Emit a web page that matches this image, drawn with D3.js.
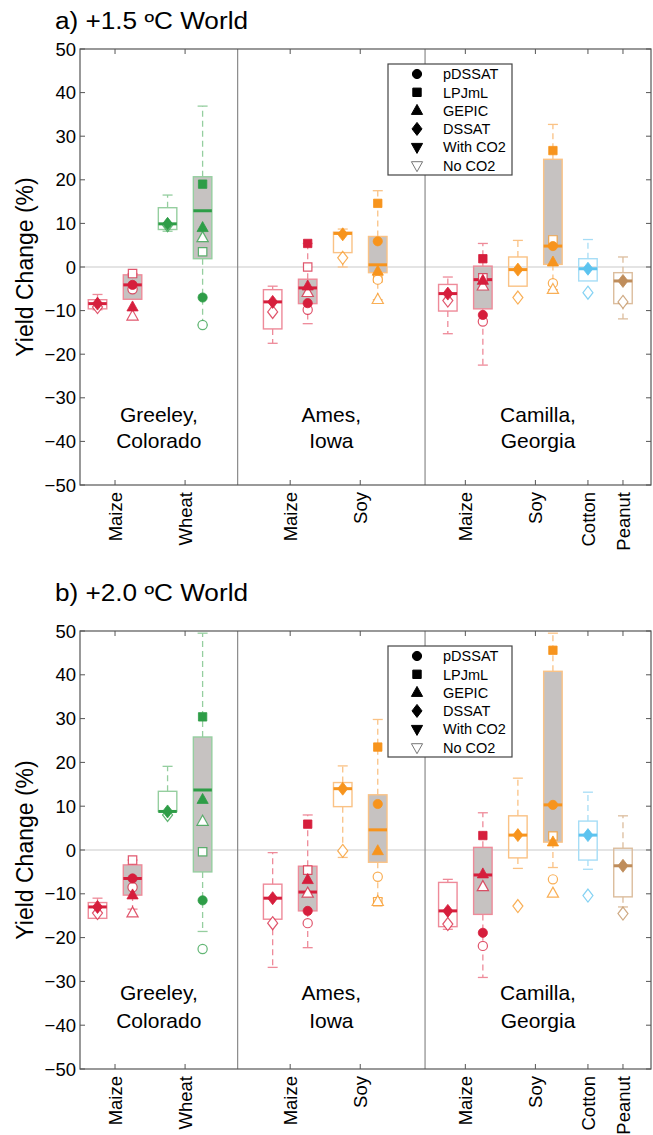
<!DOCTYPE html>
<html><head><meta charset="utf-8">
<script src="https://cdn.jsdelivr.net/npm/d3@7"></script>
<style>
body{margin:0;background:#fff}
svg{display:block}
text{font-family:"Liberation Sans",Arial,Helvetica,sans-serif;fill:#000}
</style>
</head><body>
<svg id="chart" width="653" height="1135"></svg>
<script>
// ---------- data ----------
const boxPos  = [1, 2, 3, 4, 6, 7, 8, 9, 11, 12, 13, 14, 15, 16];
const boxCrop = ["maize","maize","wheat","wheat","maize","maize","soy","soy","maize","maize","soy","soy","cotton","peanut"];
const boxGray = [0, 1, 0, 1, 0, 1, 0, 1, 0, 1, 0, 1, 0, 0];

// [whisker low, q1, median, q3, whisker high]
const statsA = [
  [-9.8, -9.6, -8.4, -7.5, -6.3],
  [-7.4, -7.4, -4.1, -1.8, -1.5],
  [8.2, 8.6, 9.9, 13.6, 16.5],
  [-13.3, 1.9, 12.9, 20.7, 36.9],
  [-17.5, -14.2, -8.0, -5.2, -4.4],
  [-13.0, -8.4, -4.8, -2.8, 5.4],
  [0.0, 3.3, 7.7, 8.0, 8.7],
  [-7.5, -1.3, 0.5, 7.0, 17.5],
  [-15.3, -10.1, -6.1, -4.0, -2.3],
  [-22.5, -9.6, -2.9, 0.2, 5.4],
  [-4.4, -4.4, -0.6, 2.3, 6.1],
  [-5.2, 0.6, 4.8, 24.7, 32.7],
  [-3.2, -3.2, -0.4, 1.9, 6.3],
  [-11.9, -8.4, -3.2, -1.3, 2.3]
];
const statsB = [
  [-15.6, -15.6, -13.0, -12.0, -11.0],
  [-13.5, -10.3, -6.5, -3.4, -2.3],
  [8.0, 8.8, 8.8, 13.4, 19.1],
  [-18.6, -5.0, 13.7, 25.8, 49.5],
  [-26.8, -15.8, -11.0, -7.8, -0.6],
  [-22.3, -13.9, -9.6, -3.7, 8.0],
  [-1.7, 9.9, 14.0, 15.4, 19.2],
  [-11.0, -2.8, 4.6, 12.6, 29.8],
  [-18.1, -17.5, -13.9, -7.4, -6.7],
  [-29.1, -14.7, -5.7, 0.6, 8.5],
  [-4.2, -1.8, 3.4, 7.8, 16.4],
  [-4.0, 1.8, 10.3, 40.8, 49.5],
  [-4.4, -2.3, 3.4, 6.6, 13.2],
  [-13.0, -10.7, -3.6, 0.4, 7.8]
];

// [box position, model, with CO2 (1) / no CO2 (0), value]
const pointsA = [
  [1,"DSSAT",1,-8.4],[1,"DSSAT",0,-9.2],
  [2,"LPJmL",0,-1.5],[2,"pDSSAT",1,-4.1],[2,"pDSSAT",0,-5.1],[2,"GEPIC",1,-9.2],[2,"GEPIC",0,-11.3],
  [3,"DSSAT",1,9.9],[3,"DSSAT",0,9.6],
  [4,"LPJmL",1,19.0],[4,"GEPIC",1,9.0],[4,"GEPIC",0,6.7],[4,"LPJmL",0,3.5],[4,"pDSSAT",1,-7.0],[4,"pDSSAT",0,-13.3],
  [6,"DSSAT",1,-8.0],[6,"DSSAT",0,-10.3],
  [7,"LPJmL",1,5.4],[7,"LPJmL",0,0.0],[7,"GEPIC",1,-4.4],[7,"GEPIC",0,-5.9],[7,"pDSSAT",1,-8.3],[7,"pDSSAT",0,-9.8],
  [8,"DSSAT",1,7.5],[8,"DSSAT",0,2.1],
  [9,"LPJmL",1,14.6],[9,"pDSSAT",1,5.9],[9,"GEPIC",1,-1.0],[9,"LPJmL",0,-2.5],[9,"pDSSAT",0,-2.9],[9,"GEPIC",0,-7.5],
  [11,"DSSAT",1,-6.1],[11,"DSSAT",0,-7.7],
  [12,"LPJmL",1,1.9],[12,"LPJmL",0,-2.5],[12,"GEPIC",1,-3.1],[12,"GEPIC",0,-4.4],[12,"pDSSAT",1,-11.0],[12,"pDSSAT",0,-12.5],
  [13,"DSSAT",1,-0.6],[13,"DSSAT",0,-7.0],
  [14,"LPJmL",1,26.7],[14,"LPJmL",0,6.2],[14,"pDSSAT",1,4.8],[14,"GEPIC",1,1.1],[14,"pDSSAT",0,-3.7],[14,"GEPIC",0,-5.2],
  [15,"DSSAT",1,-0.4],[15,"DSSAT",0,-5.9],
  [16,"DSSAT",1,-3.2],[16,"DSSAT",0,-8.0]
];
const pointsB = [
  [1,"DSSAT",1,-13.0],[1,"DSSAT",0,-14.4],
  [2,"LPJmL",0,-2.3],[2,"pDSSAT",1,-6.5],[2,"pDSSAT",0,-8.5],[2,"GEPIC",1,-10.3],[2,"GEPIC",0,-14.4],
  [3,"DSSAT",1,8.8],[3,"DSSAT",0,8.0],
  [4,"LPJmL",1,30.4],[4,"GEPIC",1,11.5],[4,"GEPIC",0,6.5],[4,"LPJmL",0,-0.4],[4,"pDSSAT",1,-11.5],[4,"pDSSAT",0,-22.6],
  [6,"DSSAT",1,-11.0],[6,"DSSAT",0,-16.7],
  [7,"LPJmL",1,5.9],[7,"LPJmL",0,-4.6],[7,"GEPIC",1,-6.8],[7,"GEPIC",0,-9.9],[7,"pDSSAT",1,-13.9],[7,"pDSSAT",0,-16.7],
  [8,"DSSAT",1,14.0],[8,"DSSAT",0,-0.2],
  [9,"LPJmL",1,23.5],[9,"pDSSAT",1,10.5],[9,"GEPIC",1,-0.2],[9,"pDSSAT",0,-6.1],[9,"LPJmL",0,-11.8],[9,"GEPIC",0,-11.8],
  [11,"DSSAT",1,-13.9],[11,"DSSAT",0,-16.9],
  [12,"LPJmL",1,3.3],[12,"GEPIC",1,-5.5],[12,"GEPIC",0,-8.4],[12,"pDSSAT",1,-18.9],[12,"pDSSAT",0,-21.9],
  [13,"DSSAT",1,3.4],[13,"DSSAT",0,-12.8],
  [14,"LPJmL",1,45.6],[14,"pDSSAT",1,10.3],[14,"LPJmL",0,3.2],[14,"GEPIC",1,1.8],[14,"pDSSAT",0,-6.7],[14,"GEPIC",0,-9.9],
  [15,"DSSAT",1,3.4],[15,"DSSAT",0,-10.4],
  [16,"DSSAT",1,-3.6],[16,"DSSAT",0,-14.5]
];

const cropTickPos   = [1.5, 3.5, 6.5, 8.5, 11.5, 13.5, 15, 16];
const cropTickNames = ["Maize","Wheat","Maize","Soy","Maize","Soy","Cotton","Peanut"];
const siteNames  = [["Greeley,","Colorado"],["Ames,","Iowa"],["Camilla,","Georgia"]];
const siteBounds = [[0.5, 5], [5, 10.35], [10.35, 16.8]];
const separators = [5, 10.35];
const yTicks = [50, 40, 30, 20, 10, 0, -10, -20, -30, -40, -50];
const legendLabels = ["pDSSAT","LPJmL","GEPIC","DSSAT","With CO2","No CO2"];
const legendShapes = ["pDSSAT","LPJmL","GEPIC","DSSAT","down","downOpen"];
const panelTitles = ["a) +1.5 \u00BAC World", "b) +2.0 \u00BAC World"];
const yLabel = "Yield Change (%)";

// ---------- styles ----------
const cropColor = {maize:"#D61E3C", wheat:"#2E9D47", soy:"#F7941D", cotton:"#5CC3EF", peanut:"#BF8D5B"};
const cropLight = {maize:"#EE8A99", wheat:"#95CE9F", soy:"#FAC285", cotton:"#A6DDF6", peanut:"#DCBD9D"};
const grayFill = "#C6C2C1";
const axisColor = "#555";

const svg = d3.select("#chart");

const panels = [
  {top: 49, bottom: 485, titleY: 29, stats: statsA, points: pointsA, title: panelTitles[0], siteY: [-33.8, -39.8]},
  {top: 631, bottom: 1069, titleY: 601, stats: statsB, points: pointsB, title: panelTitles[1], siteY: [-32.6, -38.9]}
];

const left = 80, right = 651;
const x = d3.scaleLinear().domain([0.5, 16.8]).range([left, right]);

function markerPath(shape) {
  switch (shape) {
    case "pDSSAT": { const p = d3.path(); p.arc(0, 0, 4.6, 0, 2 * Math.PI); p.closePath(); return p.toString(); }
    case "LPJmL": return "M-4.2,-4.2H4.2V4.2H-4.2Z";
    case "GEPIC": return "M0,-6.2L5.6,3.8L-5.6,3.8Z";
    case "DSSAT": return "M0,-6.5L5,0L0,6.5L-5,0Z";
    case "down":
    case "downOpen": return "M0,6.2L5.6,-3.8L-5.6,-3.8Z";
  }
}

panels.forEach((P, pi) => {
  const g = svg.append("g");
  const y = d3.scaleLinear().domain([-50, 50]).range([P.bottom, P.top]);

  // title
  g.append("text").attr("x", 55).attr("y", P.titleY)
    .attr("font-size", 23).attr("textLength", 193).attr("lengthAdjust", "spacingAndGlyphs")
    .text(P.title);

  // zero line
  g.append("line").attr("x1", left).attr("x2", right).attr("y1", y(0)).attr("y2", y(0))
    .attr("stroke", "#c9c9c9").attr("stroke-width", 1);

  // separators
  g.selectAll(".sep").data(separators).enter().append("line")
    .attr("x1", d => x(d)).attr("x2", d => x(d)).attr("y1", P.top).attr("y2", P.bottom)
    .attr("stroke", "#8a8a8a").attr("stroke-width", 1.2);

  const bw = 18.5;
  const boxes = boxPos.map((p, i) => ({p, crop: boxCrop[i], gray: boxGray[i], s: P.stats[i]}));

  // whiskers
  boxes.forEach(b => {
    const cx = x(b.p);
    const [lo, q1, med, q3, hi] = b.s;
    const col = cropLight[b.crop];
    if (hi > q3) {
      g.append("line").attr("x1", cx).attr("x2", cx).attr("y1", y(q3)).attr("y2", y(hi))
        .attr("stroke", col).attr("stroke-width", 1.3).attr("stroke-dasharray", "6,4");
      g.append("line").attr("x1", cx - 5).attr("x2", cx + 5).attr("y1", y(hi)).attr("y2", y(hi))
        .attr("stroke", col).attr("stroke-width", 1.3);
    }
    if (lo < q1) {
      g.append("line").attr("x1", cx).attr("x2", cx).attr("y1", y(q1)).attr("y2", y(lo))
        .attr("stroke", col).attr("stroke-width", 1.3).attr("stroke-dasharray", "6,4");
      g.append("line").attr("x1", cx - 5).attr("x2", cx + 5).attr("y1", y(lo)).attr("y2", y(lo))
        .attr("stroke", col).attr("stroke-width", 1.3);
    }
  });

  // boxes
  boxes.forEach(b => {
    const cx = x(b.p);
    const [lo, q1, med, q3, hi] = b.s;
    g.append("rect").attr("x", cx - bw / 2).attr("width", bw)
      .attr("y", y(q3)).attr("height", Math.max(1, y(q1) - y(q3)))
      .attr("fill", b.gray ? grayFill : "#fff").attr("fill-opacity", b.gray ? 1 : 0)
      .attr("stroke", cropLight[b.crop]).attr("stroke-width", 1.4);
  });

  // medians
  boxes.forEach(b => {
    const cx = x(b.p);
    g.append("line").attr("x1", cx - bw / 2).attr("x2", cx + bw / 2)
      .attr("y1", y(b.s[2])).attr("y2", y(b.s[2]))
      .attr("stroke", cropColor[b.crop]).attr("stroke-width", 3);
  });

  // points
  const cropAt = {};
  boxPos.forEach((p, i) => cropAt[p] = boxCrop[i]);
  const pts = P.points.slice().sort((a, b) => a[2] - b[2]);
  g.selectAll(".pt").data(pts).enter().append("path")
    .attr("d", d => markerPath(d[1]))
    .attr("transform", d => `translate(${x(d[0])},${y(d[3])})`)
    .attr("fill", d => d[2] ? cropColor[cropAt[d[0]]] : "#fff")
    .attr("stroke", d => cropColor[cropAt[d[0]]])
    .attr("stroke-opacity", d => d[2] ? 1 : 0.75)
    .attr("stroke-width", d => d[2] ? 0.8 : 1.2);

  // axes frame
  g.append("rect").attr("x", left).attr("y", P.top).attr("width", right - left).attr("height", P.bottom - P.top)
    .attr("fill", "none").attr("stroke", axisColor).attr("stroke-width", 1.2);

  // y ticks (left & right, inward)
  g.selectAll(".ytl").data(yTicks).enter().append("line")
    .attr("x1", left).attr("x2", left + 5).attr("y1", d => y(d)).attr("y2", d => y(d))
    .attr("stroke", axisColor);
  g.selectAll(".ytr").data(yTicks).enter().append("line")
    .attr("x1", right - 5).attr("x2", right).attr("y1", d => y(d)).attr("y2", d => y(d))
    .attr("stroke", axisColor);
  g.selectAll(".ylab").data(yTicks).enter().append("text")
    .attr("x", left - 4).attr("y", d => y(d)).attr("dy", "0.36em")
    .attr("text-anchor", "end").attr("font-size", 18.5)
    .text(d => d < 0 ? "\u2212" + Math.abs(d) : String(d));

  // x ticks top & bottom
  g.selectAll(".xtt").data(cropTickPos).enter().append("line")
    .attr("x1", d => x(d)).attr("x2", d => x(d)).attr("y1", P.top).attr("y2", P.top + 5)
    .attr("stroke", axisColor);
  g.selectAll(".xtb").data(cropTickPos).enter().append("line")
    .attr("x1", d => x(d)).attr("x2", d => x(d)).attr("y1", P.bottom).attr("y2", P.bottom - 5)
    .attr("stroke", axisColor);
  g.selectAll(".xlab").data(cropTickPos).enter().append("text")
    .attr("transform", d => `translate(${x(d)},${P.bottom + 7}) rotate(-90)`)
    .attr("dy", "0.36em").attr("text-anchor", "end").attr("font-size", 18.5)
    .text((d, i) => cropTickNames[i]);

  // y axis label
  g.append("text")
    .attr("transform", `translate(${25},${y(0)}) rotate(-90)`)
    .attr("dy", "0.36em").attr("text-anchor", "middle").attr("font-size", 23)
    .text(yLabel);

  // site labels
  siteNames.forEach((lines, si) => {
    const cx = (x(siteBounds[si][0]) + x(siteBounds[si][1])) / 2;
    lines.forEach((t, li) => {
      g.append("text").attr("x", cx).attr("y", y(P.siteY[li])).attr("dy", "0.36em")
        .attr("text-anchor", "middle").attr("font-size", 21).text(t);
    });
  });

  // legend
  const lx = 388, ly = P.top + 15, lw = 124, lh = 111;
  const lg = g.append("g");
  lg.append("rect").attr("x", lx).attr("y", ly).attr("width", lw).attr("height", lh)
    .attr("fill", "#fff").attr("stroke", "#444").attr("stroke-width", 1.2);
  legendLabels.forEach((lab, i) => {
    const ry = ly + 10 + i * 18.3;
    lg.append("path").attr("d", markerPath(legendShapes[i]))
      .attr("transform", `translate(${lx + 29},${ry})`)
      .attr("fill", legendShapes[i] === "downOpen" ? "#fff" : "#000")
      .attr("stroke", legendShapes[i] === "downOpen" ? "#777" : "#000")
      .attr("stroke-width", 1);
    lg.append("text").attr("x", lx + 55).attr("y", ry).attr("dy", "0.36em")
      .attr("font-size", 14.5).text(lab);
  });
});
</script>
</body></html>
